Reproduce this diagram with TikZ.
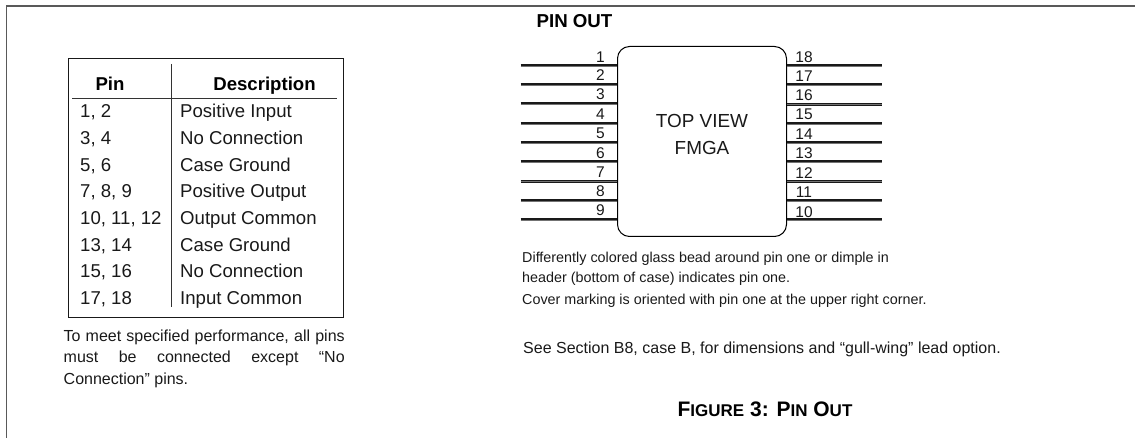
\documentclass[tikz,border=0pt]{standalone}
\usepackage{fontspec}
\setmainfont{Liberation Sans}
\tikzset{
  x=1pt,y=-1pt,
  frameline/.style={draw=black!65,line width=1.4pt},
  rule/.style={draw=black!80,line width=1pt},
  cell/.style={anchor=base west,inner sep=0pt,font=\fontsize{18.6}{22}\selectfont,text=black!90},
  head/.style={anchor=base,inner sep=0pt,font=\fontsize{18.6}{22}\selectfont\bfseries},
  note/.style={anchor=base west,inner sep=0pt,font=\fontsize{14.35}{17}\selectfont,text=black!90},
  pinlabel/.style={anchor=base,inner sep=0pt,font=\fontsize{15.5}{18}\selectfont,text=black!90},
  chiplabel/.style={anchor=base,inner sep=0pt,font=\fontsize{18.9}{22}\selectfont,text=black!90},
  lead/.style={preaction={draw=black!90,line width=3pt},draw=black!55,line width=.9pt},
}
\newcommand{\smc}[2]{{\fontsize{21}{24}\selectfont #1}{\fontsize{17}{24}\selectfont #2}}
\begin{document}
\begin{tikzpicture}
\useasboundingbox (0,0) rectangle (1135,438);
% page frame
\coordinate (fa) at (6.5,438); \coordinate (fb) at (6.5,6); \coordinate (fc) at (1135,6);
\draw[frameline] (fa) -- (fb) -- (fc);
% table
\node[draw=black!90,line width=1pt,minimum width=275pt,minimum height=259.5pt,inner sep=0pt,anchor=north west] (tbl) at (67.5,58) {};
\coordinate (va) at (171,64); \coordinate (vb) at (171,307);
\coordinate (ha) at (72,98.5); \coordinate (hb) at (337,98.5);
\draw[rule] (va) -- (vb);
\draw[rule] (ha) -- (hb);
\node[head] (hp) at (110,91) {Pin};
\node[head] (hd) at (264.5,91) {Description};
\foreach \n/\p/\d/\y in {a/{1, 2}/Positive Input/118,
  b/{3, 4}/No Connection/145,
  c/{5, 6}/Case Ground/171.5,
  d/{7, 8, 9}/Positive Output/198,
  e/{10, 11, 12}/Output Common/225,
  f/{13, 14}/Case Ground/251.5,
  g/{15, 16}/No Connection/278,
  h/{17, 18}/Input Common/305}{
  \node[cell] (p\n) at (80,\y) {\p};
  \node[cell] (d\n) at (180,\y) {\d};
}
\node[anchor=base west,inner sep=0pt,text width=281pt,align=justify,font=\fontsize{16}{21.2}\selectfont,text=black!90] (tn) at (63.5,341.7)
 {To meet specified performance, all pins\linebreak must be connected except “No\linebreak Connection” pins.};
% pin out
\node[anchor=base,inner sep=0pt,font=\fontsize{18.7}{22}\selectfont\bfseries] (title) at (574.5,28) {PIN OUT};
\node[draw=black,line width=1pt,rounded corners=12pt,minimum width=169pt,minimum height=190pt,inner sep=0pt,anchor=north west] (chip) at (617,46) {};
\node[chiplabel] (t1) at (702,128) {TOP VIEW};
\node[chiplabel] (t2) at (702,155) {FMGA};
\foreach \i/\y/\ly in {1/66/62.3,2/85/81,3/104/100,4/124/119.3,5/143/139,6/162/158.3,7/181.5/177.7,8/201/197,9/220/216}{
  \coordinate (l\i) at (520.5,\y);
  \coordinate (li\i) at (616.5,\y);
  \draw[lead] (l\i) -- (li\i);
  \node[pinlabel] (nl\i) at (600.5,\ly) {\i};
}
\foreach \i/\y/\ly in {18/66/62.3,17/85/81.7,16/104.5/100.7,15/124/120,14/143/139.3,13/162/159,12/181.5/178.3,11/201/197.7,10/220/217.3}{
  \coordinate (r\i) at (882,\y);
  \coordinate (ri\i) at (786.5,\y);
  \draw[lead] (ri\i) -- (r\i);
  \node[pinlabel] (nr\i) at (804,\ly) {\i};
}
\node[note] (n1) at (522,262.7) {Differently colored glass bead around pin one or dimple in};
\node[note] (n2) at (522,283) {header (bottom of case) indicates pin one.};
\node[note] (n3) at (522,304.3) {Cover marking is oriented with pin one at the upper right corner.};
\node[anchor=base west,inner sep=0pt,font=\fontsize{16}{18}\selectfont,text=black!90] (n4) at (523,353.3) {See Section B8, case B, for dimensions and “gull-wing” lead option.};
\node[anchor=base,inner sep=0pt,font=\bfseries] (fig) at (765,416.7) {\smc{F}{IGURE}\smc{ 3: P}{IN}\smc{ O}{UT}};
\end{tikzpicture}
\end{document}
